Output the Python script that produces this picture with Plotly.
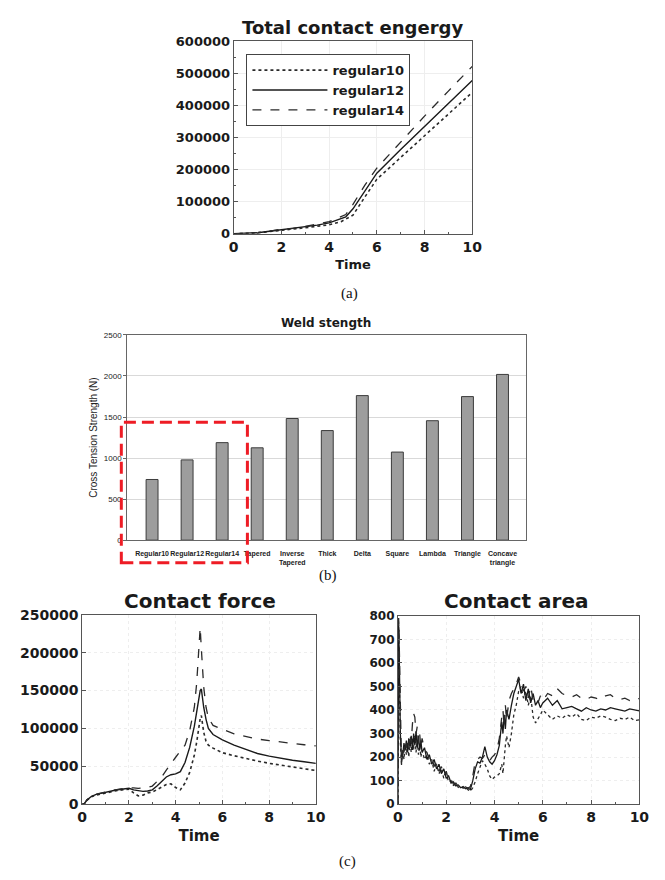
import plotly.graph_objects as go

W, H = 665, 880

# ---------------- (a) Total contact energy ----------------
energy_time = [0, 0.5, 1, 1.5, 2, 2.5, 3, 3.5, 4, 4.5, 4.7, 5, 5.5, 6, 7, 8, 9, 10]
energy_r10 = [0, 1000, 3000, 7000, 12000, 15000, 19000, 23000, 28000, 38000, 45000, 58000,
              115000, 170000, 238000, 306000, 375000, 441000]
energy_r12 = [0, 1000, 3500, 8000, 13000, 16000, 21000, 27000, 34000, 46000, 53000, 78000,
              135000, 189000, 263000, 335000, 405000, 478000]
energy_r14 = [0, 1000, 4000, 8500, 14000, 17000, 23000, 30000, 38000, 52000, 60000, 92000,
              152000, 205000, 287000, 367000, 445000, 522000]
series_names = ["regular10", "regular12", "regular14"]

# ---------------- (b) Weld strength ----------------
weld_categories = ["Regular10", "Regular12", "Regular14", "Tapered", "Inverse<br>Tapered",
                   "Thick", "Delta", "Square", "Lambda", "Triangle", "Concave<br>triangle"]
weld_strength = [739, 978, 1188, 1125, 1482, 1335, 1761, 1073, 1455, 1749, 2019]

# ---------------- (c) Contact force ----------------
force_time = [0, 0.1, 0.2, 0.4, 0.6, 0.8, 1.0, 1.2, 1.4, 1.6, 1.8, 2.0, 2.2, 2.4, 2.6, 2.8,
              3.0, 3.2, 3.4, 3.6, 3.8, 4.0, 4.2, 4.4, 4.6, 4.8, 4.9, 5.0, 5.05, 5.1, 5.2, 5.3,
              5.4, 5.6, 5.8, 6.0, 6.5, 7.0, 7.5, 8.0, 8.5, 9.0, 9.5, 10.0]
force_r10 = [0, 1000, 5000, 10000, 12000, 13500, 15000, 16000, 17500, 18500, 19500, 20000,
             15000, 11000, 12000, 15000, 16000, 19000, 22000, 26000, 27000, 22000, 19000,
             28000, 42000, 65000, 82000, 105000, 113000, 117000, 95000, 83000, 78000, 74000,
             71000, 68000, 64000, 60000, 57000, 54000, 51500, 49000, 47000, 44500]
force_r12 = [0, 1000, 5500, 10500, 13000, 14500, 16000, 17000, 18500, 19500, 20500, 21000,
             19000, 17500, 17000, 17500, 19000, 24000, 30000, 36000, 39000, 40000, 43000,
             55000, 75000, 103000, 122000, 142000, 150000, 152000, 128000, 112000, 100000,
             92000, 88000, 85000, 78000, 72000, 67000, 63500, 60500, 58000, 56000, 54000]
force_r14 = [0, 1000, 6000, 11000, 13500, 15000, 16500, 17500, 19000, 20000, 21000, 22000,
             21500, 21000, 21500, 22000, 24000, 30000, 36000, 45000, 54000, 62000, 70000,
             78000, 97000, 128000, 160000, 215000, 233000, 205000, 155000, 128000, 114000,
             104000, 101000, 99000, 93000, 89000, 86000, 84000, 82000, 80000, 78500, 77000]

# ---------------- (c) Contact area ----------------
area_time = [0.0, 0.03, 0.06, 0.1,
             0.15, 0.2, 0.25, 0.3, 0.35, 0.4, 0.45, 0.5, 0.55, 0.6, 0.65, 0.7, 0.75, 0.8,
             0.85, 0.9, 0.95, 1.0,
             1.1, 1.2, 1.3, 1.4, 1.5, 1.6, 1.7, 1.8, 1.9, 2.0,
             2.1, 2.2, 2.3, 2.4, 2.5, 2.6, 2.7, 2.8, 2.9, 3.0,
             3.1, 3.2, 3.3, 3.4, 3.5, 3.6, 3.7, 3.8, 3.9, 4.0,
             4.1, 4.2, 4.3, 4.35, 4.4, 4.45, 4.5,
             4.6, 4.7, 4.8, 4.9, 5.0, 5.1, 5.2, 5.3, 5.4, 5.5, 5.6, 5.7, 5.8, 5.9, 6.0,
             6.2, 6.4, 6.6, 6.8, 7.0, 7.2, 7.4, 7.6, 7.8, 8.0,
             8.2, 8.4, 8.6, 8.8, 9.0, 9.2, 9.4, 9.6, 9.8, 10.0]
area_r10 = [0, 780, 520, 260,
            170, 230, 190, 250, 210, 260, 200, 270, 220, 280, 230, 290, 220, 270,
            210, 250, 200, 230,
            190, 210, 170, 190, 140, 170, 130, 150, 110, 130,
            95, 100, 80, 85, 72, 78, 68, 72, 62, 55,
            70, 95, 130, 160, 185, 170, 150, 120, 105, 115,
            120, 130, 170, 130, 200, 250, 290,
            240, 300, 380, 420, 480, 500, 450, 480, 420, 460, 370, 345, 360, 380, 400,
            380, 360, 375, 365, 380, 370, 385, 360, 355, 370,
            365, 375, 370, 360, 355, 365, 360, 370, 355, 358]
area_r12 = [0, 760, 600, 300,
            190, 210, 260, 230, 270, 220, 280, 240, 290, 230, 300, 250, 310, 240,
            290, 230, 270, 220,
            240, 190, 210, 170, 190, 150, 170, 130, 150, 110,
            120, 90, 95, 78, 82, 70, 75, 66, 70, 62,
            100, 150, 180, 175, 200, 245, 200, 180, 170, 185,
            210, 250, 350, 300, 380, 320, 400,
            360, 420, 470, 500, 530, 470, 510, 440, 490, 430, 470, 420, 440, 410, 430,
            450, 420, 440, 405, 410, 415, 405, 395, 410, 400,
            395, 405, 400, 410, 405, 400, 395, 405, 400, 396]
area_r14 = [0, 790, 650, 330,
            160, 250, 220, 270, 240, 280, 250, 300, 260, 340, 385, 370, 300, 330,
            260, 300, 240, 280,
            230, 220, 190, 200, 160, 180, 140, 160, 120, 140,
            100, 105, 85, 90, 76, 80, 72, 74, 68, 75,
            120, 180, 190, 200, 195, 210, 190, 185, 200, 210,
            230, 280, 370, 400, 330, 420, 360,
            440, 470, 490, 510, 540, 510, 480, 500, 450, 500, 440, 450, 430, 460, 440,
            470, 460, 490, 470, 460, 455, 465, 450, 445, 455,
            450, 445, 460, 465, 450, 445, 450, 440, 450, 448]

# ---------------- styling ----------------
GOTH = "DejaVu Sans"
INK = "#1a1a1a"
line_styles = [dict(dash="dot", width=1.6, color="#2a2a2a"),
               dict(dash="solid", width=1.4, color="#1a1a1a"),
               dict(dash="dash", width=1.3, color="#2a2a2a")]

fig = go.Figure()

for name, ys, st in zip(series_names, [energy_r10, energy_r12, energy_r14], line_styles):
    fig.add_trace(go.Scatter(x=energy_time, y=ys, mode="lines", name=name, line=st,
                             xaxis="x", yaxis="y", showlegend=True))

fig.add_trace(go.Bar(x=weld_categories, y=weld_strength, width=0.34,
                     marker=dict(color="#9d9d9d", line=dict(color="#3c3c3c", width=1)),
                     xaxis="x2", yaxis="y2", showlegend=False))

for name, ys, st in zip(series_names, [force_r10, force_r12, force_r14], line_styles):
    fig.add_trace(go.Scatter(x=force_time, y=ys, mode="lines", name=name, line=st,
                             xaxis="x3", yaxis="y3", showlegend=False))

for name, ys, st in zip(series_names, [area_r10, area_r12, area_r14], line_styles):
    fig.add_trace(go.Scatter(x=area_time, y=ys, mode="lines", name=name,
                             line=dict(dash=st["dash"], width=1.3, color=st["color"]),
                             xaxis="x4", yaxis="y4", showlegend=False))


def dx(p0, p1):
    return [p0 / W, p1 / W]


def dy(top, bottom):
    return [1 - bottom / H, 1 - top / H]


line_axis = dict(showline=True, mirror=True, linecolor="#555555", linewidth=1,
                 zeroline=False, ticks="inside", ticklen=4, tickcolor="#555555")

fig.update_layout(
    width=W, height=H, autosize=False,
    margin=dict(l=0, r=0, t=0, b=0),
    paper_bgcolor="white", plot_bgcolor="white",
    font=dict(family=GOTH, color=INK),
    legend=dict(x=247 / W, y=1 - 47 / H, xanchor="left", yanchor="top",
                bgcolor="white", bordercolor="#444444", borderwidth=1,
                font=dict(family=GOTH, size=13, weight="bold", color=INK),
                itemwidth=75, tracegroupgap=0),
    xaxis=dict(domain=dx(234, 478), range=[0, 10], dtick=2, anchor="y",
               tickfont=dict(size=14, weight="bold"),
               showgrid=True, gridcolor="#eeeeee",
               minor=dict(dtick=1, ticks="inside", ticklen=2, tickcolor="#555555"),
               title=dict(text="Time", font=dict(size=13, weight="bold"), standoff=6),
               **line_axis),
    yaxis=dict(domain=dy(34, 230), range=[0, 600000], dtick=100000, tickformat="d",
               anchor="x", tickfont=dict(size=13, weight="bold"),
               showgrid=True, gridcolor="#eeeeee",
               minor=dict(dtick=50000, ticks="inside", ticklen=2, tickcolor="#555555"),
               **line_axis),
    xaxis2=dict(domain=dx(125, 533), anchor="y2", type="category",
                categoryorder="array", categoryarray=weld_categories,
                range=[-0.71, 10.67], tickangle=0, showline=True, mirror=True,
                linecolor="#666666", ticks="", showgrid=False, ticklabelstandoff=6,
                tickfont=dict(family="Liberation Sans", size=7, weight="bold", color="#222")),
    yaxis2=dict(domain=dy(333, 542), anchor="x2", range=[0, 2500], dtick=500,
                showline=True, mirror=True, linecolor="#666666", zeroline=False,
                showgrid=True, gridcolor="#d9d9d9", ticks="outside", ticklen=3,
                tickcolor="#666666",
                tickfont=dict(family="Liberation Sans", size=8, color="#222"),
                title=dict(text="Cross Tension Strength (N)",
                           font=dict(family="Liberation Sans", size=10, color="#222"),
                           standoff=4)),
    xaxis3=dict(domain=dx(79, 318), range=[0, 10], dtick=2, anchor="y3",
                tickfont=dict(size=14, weight="bold"),
                showgrid=True, gridcolor="#eeeeee", griddash="dot",
                minor=dict(dtick=1, ticks="inside", ticklen=2, tickcolor="#555555"),
                title=dict(text="Time", font=dict(size=15, weight="bold"), standoff=6),
                **line_axis),
    yaxis3=dict(domain=dy(618, 811), range=[0, 250000], dtick=50000, tickformat="d",
                anchor="x3", tickfont=dict(size=14, weight="bold"),
                showgrid=True, gridcolor="#eeeeee", griddash="dot",
                **line_axis),
    xaxis4=dict(domain=dx(402, 649), range=[0, 10], dtick=2, anchor="y4",
                tickfont=dict(size=14, weight="bold"),
                showgrid=True, gridcolor="#eeeeee", griddash="dot",
                minor=dict(dtick=1, ticks="inside", ticklen=2, tickcolor="#555555"),
                title=dict(text="Time", font=dict(size=15, weight="bold"), standoff=6),
                **line_axis),
    yaxis4=dict(domain=dy(619, 811), range=[0, 800], dtick=100,
                anchor="x4", tickfont=dict(size=12, weight="bold"),
                showgrid=True, gridcolor="#eeeeee", griddash="dot",
                **line_axis),
)

annotations = [
    dict(text="Total contact engergy", x=356 / W, y=1 - 20 / H,
         font=dict(size=18, weight="bold")),
    dict(text="Weld stength", x=328 / W, y=1 - 321 / H,
         font=dict(size=12, weight="bold")),
    dict(text="Contact force", x=199 / W, y=1 - 604 / H,
         font=dict(size=20, weight="bold")),
    dict(text="Contact area", x=523 / W, y=1 - 604 / H,
         font=dict(size=20, weight="bold")),
    dict(text="(a)", x=352 / W, y=1 - 291 / H,
         font=dict(family="Liberation Serif", size=15, color="#111")),
    dict(text="(b)", x=330 / W, y=1 - 578 / H,
         font=dict(family="Liberation Serif", size=15, color="#111")),
    dict(text="(c)", x=350 / W, y=1 - 869 / H,
         font=dict(family="Liberation Serif", size=15, color="#111")),
]
for a in annotations:
    a.update(xref="paper", yref="paper", showarrow=False, xanchor="center",
             yanchor="middle")
    fig.add_annotation(**a)

# red dashed highlight box around the Regular group
fig.add_shape(type="rect", xref="paper", yref="paper",
              x0=119 / W, x1=248 / W, y0=1 - 565 / H, y1=1 - 422 / H,
              line=dict(color="#ee1c25", width=3, dash="12px,6px"),
              fillcolor="rgba(0,0,0,0)", layer="above")

fig.write_html("out.html")
